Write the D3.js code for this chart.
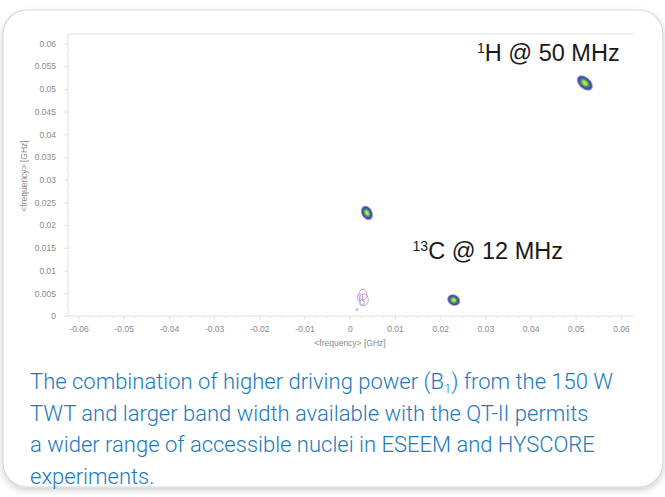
<!DOCTYPE html>
<html>
<head>
<meta charset="utf-8">
<script src="https://cdn.jsdelivr.net/npm/d3@7"></script>
<style>
  body { margin: 0; background: #fff; }
</style>
</head>
<body>
<svg id="chart" width="665" height="497"></svg>
<script>
// Axis ticks (GHz)
var xTicks = [-0.06, -0.05, -0.04, -0.03, -0.02, -0.01, 0, 0.01, 0.02, 0.03, 0.04, 0.05, 0.06];
var yTicks = [0, 0.005, 0.01, 0.015, 0.02, 0.025, 0.03, 0.035, 0.04, 0.045, 0.05, 0.055, 0.06];

// Cross peaks (GHz)
var peakNames = ["1H", "13C a", "13C b"];
var peakX = [0.0520, 0.0038, 0.0230];
var peakY = [0.0513, 0.0227, 0.0035];
// semi-axes of the outer contour (GHz) and tilt of the ridge (deg)
var peakMajor = [0.0021, 0.0017, 0.0015];
var peakMinor = [0.0013, 0.0012, 0.0012];
var peakTilt = [42, 62, 28];
// contour levels, outside -> in (fraction of outer contour)
var levels = [1, 0.85, 0.7, 0.55, 0.38, 0.18];

// faint, noisy contours near the origin (GHz)
var weakX = [0.0029, 0.0031, 0.0023, 0.0027, 0.0016];
var weakY = [0.0047, 0.0036, 0.0041, 0.0029, 0.0014];
var weakR = [0.0009, 0.0010, 0.0006, 0.0005, 0.0002];

var caption = [
   ["The combination of higher driving power (B", "1", ") from the 150 W"],
   ["TWT and larger band width available with the QT-II permits"],
   ["a wider range of accessible nuclei in ESEEM and HYSCORE"],
   ["experiments."]
];

window.onload = function() {
   drawCard();
   drawPlot();
   drawCaption();
};

function drawCard() {
   var svg = d3.select("#chart");
   var defs = svg.append("defs");
   var f = defs.append("filter").attr("id", "shadow")
      .attr("x", "-5%").attr("y", "-5%").attr("width", "110%").attr("height", "112%");
   f.append("feDropShadow")
      .attr("dx", 0).attr("dy", 3).attr("stdDeviation", 3)
      .attr("flood-color", "#000").attr("flood-opacity", 0.18);

   svg.append("rect")
      .attr("x", 3).attr("y", 10)
      .attr("width", 660).attr("height", 477)
      .attr("rx", 24)
      .attr("fill", "#fff")
      .attr("stroke", "#cfdae3")
      .attr("stroke-width", 1.2)
      .attr("filter", "url(#shadow)");
}

// plain hyphen for negatives, like the original
function fmt(d) { return d3.format("~g")(+d.toFixed(3)).replace("\u2212", "-"); }

function drawPlot() {
   var svg = d3.select("#chart");
   var left = 68, right = 633, top = 34, bottom = 316;

   var x = d3.scaleLinear().domain([-0.06, 0.06]).range([78.5, 621]);
   var y = d3.scaleLinear().domain([0, 0.06]).range([316, 43.5]);

   svg.select("defs").append("clipPath").attr("id", "xclip")
      .append("rect").attr("x", 0).attr("y", 0).attr("width", right).attr("height", 497);

   var frameColor = "#dde3e8";
   // frame: top, left (no right side)
   svg.append("path")
      .attr("d", "M" + right + "," + top + "H" + left + "V" + bottom + "H" + right)
      .attr("fill", "none")
      .attr("stroke", frameColor);

   // minor ticks
   var minorX = d3.range(-0.06, 0.0601, 0.0025);
   var minorY = d3.range(0, 0.0601, 0.0025);
   svg.append("g").selectAll("line").data(minorX).enter().append("line")
      .attr("x1", function(d) { return x(d); }).attr("x2", function(d) { return x(d); })
      .attr("y1", bottom).attr("y2", bottom + 2)
      .attr("stroke", "#e6e9ec");
   svg.append("g").selectAll("line").data(minorY).enter().append("line")
      .attr("y1", function(d) { return y(d); }).attr("y2", function(d) { return y(d); })
      .attr("x1", left - 2).attr("x2", left)
      .attr("stroke", "#e6e9ec");

   var xAxis = svg.append("g")
      .attr("transform", "translate(0," + bottom + ")")
      .attr("clip-path", "url(#xclip)")
      .call(d3.axisBottom(x).tickValues(xTicks).tickSize(4).tickPadding(6).tickFormat(fmt));
   var yAxis = svg.append("g")
      .attr("transform", "translate(" + left + ",0)")
      .call(d3.axisLeft(y).tickValues(yTicks).tickSize(4).tickPadding(8).tickFormat(fmt));

   [xAxis, yAxis].forEach(function(a) {
      a.select(".domain").remove();
      a.selectAll(".tick line").attr("stroke", "#e2e6ea");
      a.selectAll("text")
         .attr("fill", "#8a8a8a")
         .style("font-family", "'Liberation Sans', Arial, sans-serif")
         .style("font-size", "8.5px");
   });

   // axis titles
   svg.append("text")
      .attr("x", 350).attr("y", 346)
      .attr("text-anchor", "middle")
      .attr("fill", "#8a8a8a")
      .style("font-family", "'Liberation Sans', Arial, sans-serif")
      .style("font-size", "8.5px")
      .text("<frequency> [GHz]");
   svg.append("text")
      .attr("transform", "translate(27,176) rotate(-90)")
      .attr("text-anchor", "middle")
      .attr("fill", "#8a8a8a")
      .style("font-family", "'Liberation Sans', Arial, sans-serif")
      .style("font-size", "8.5px")
      .text("<frequency> [GHz]");

   // weak contours
   var g0 = svg.append("g");
   g0.selectAll("ellipse").data(weakX).enter().append("ellipse")
      .attr("cx", function(d) { return x(d); })
      .attr("cy", function(d, i) { return y(weakY[i]); })
      .attr("rx", function(d, i) { return x(weakR[i]) - x(0); })
      .attr("ry", function(d, i) { return (x(weakR[i]) - x(0)) * 1.3; })
      .attr("fill", "none")
      .attr("stroke", function(d, i) { return i == 2 ? "#d18bd6" : "#b49ad8"; })
      .attr("stroke-width", 0.9);

   // cross peaks as nested contour ellipses
   var levelColor = ["#a486d2", "#473f99", "#2d73a6", "#2fa06a", "#a8cd46", "#ecd83a"];
   var pxPerGHz = x(1) - x(0);
   peakNames.forEach(function(name, i) {
      var g = svg.append("g")
         .attr("transform", "translate(" + x(peakX[i]) + "," + y(peakY[i]) + ") rotate(" + peakTilt[i] + ")");
      g.selectAll("ellipse").data(levels).enter().append("ellipse")
         .attr("rx", function(l) { return peakMajor[i] * pxPerGHz * l; })
         .attr("ry", function(l) { return peakMinor[i] * pxPerGHz * l; })
         .attr("fill", function(l, j) { return levelColor[j]; });
   });

   // peak labels
   var lab = svg.append("g")
      .attr("fill", "#1a1a1a")
      .style("font-family", "'Liberation Sans', Arial, sans-serif")
      .style("font-size", "23.5px");
   var h = lab.append("text")
      .attr("x", x(0.0597)).attr("y", y(0.0561))
      .attr("text-anchor", "end");
   h.append("tspan").attr("font-size", "14px").attr("dy", -8).text("1");
   h.append("tspan").attr("dy", 8).text("H @ 50 MHz");
   var c = lab.append("text")
      .attr("x", x(0.0139)).attr("y", y(0.0126));
   c.append("tspan").attr("font-size", "14px").attr("dy", -8).text("13");
   c.append("tspan").attr("dy", 8).text("C @ 12 MHz");
}

function drawCaption() {
   var svg = d3.select("#chart");
   var t = svg.append("g")
      .attr("fill", "#2179bd")
      .style("font-family", "Roboto, 'Noto Sans', sans-serif")
      .style("font-weight", 300)
      .style("font-size", "22px");
   caption.forEach(function(parts, i) {
      var line = t.append("text").attr("x", 30).attr("y", 389 + i * 31.5);
      parts.forEach(function(p, j) {
         if (j == 1) {
            line.append("tspan").attr("font-size", "13px").attr("dy", 4).text(p);
         } else if (j == 2) {
            line.append("tspan").attr("dy", -4).text(p);
         } else {
            line.append("tspan").text(p);
         }
      });
   });
}
</script>
</body>
</html>
